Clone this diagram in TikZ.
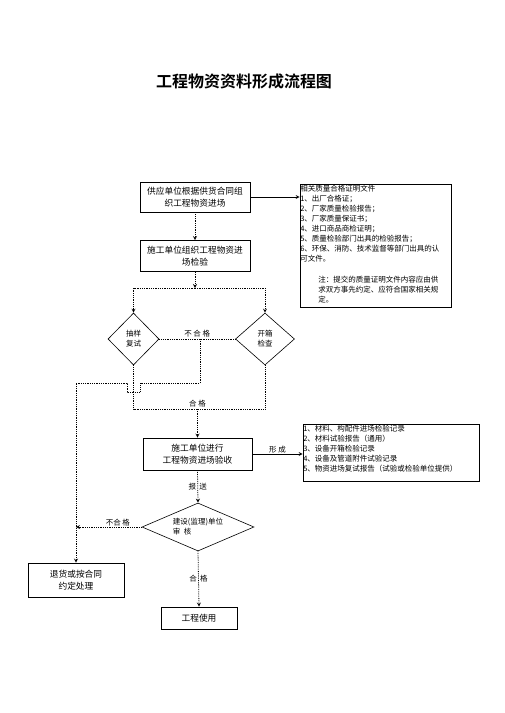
\documentclass[tikz,border=0pt]{standalone}
\usepackage{fontspec}
\setmainfont{Noto Sans CJK SC}[BoldFont={Noto Sans CJK SC Bold}]
\usepackage{tikz}
\usetikzlibrary{shapes.geometric, arrows}

\begin{document}
\begin{tikzpicture}[x=1pt, y=-1pt, font=\fontsize{7.5pt}{10pt}\selectfont]
		\tikzstyle{process} = [rectangle, minimum width=110pt, minimum height=30pt, align=center, draw=black, line width=0.8pt, inner sep=1pt, font=\fontsize{8.7pt}{12pt}\selectfont]
		
		\tikzstyle{decision} = [diamond, draw=black, line width=0.6pt, inner sep=0pt, align=center]
		
		\tikzstyle{docs} = [rectangle, draw=black, line width=0.9pt, inner sep=0pt]
		
		\tikzstyle{doctext} = [anchor=north west, align=left, inner xsep=0.5pt, inner ysep=1.5pt]
		
		\tikzstyle{arrow} = [->, >=stealth, line width=0.7pt]
		\tikzstyle{dotarrow} = [->, >=stealth, densely dotted, line width=0.8pt]
		\tikzstyle{dotline} = [densely dotted, line width=0.8pt]
		\tikzstyle{lbl} = [inner sep=1pt]
		
		\useasboundingbox (0,0) rectangle (504,713);
		
		% Title
		\node (title) at (244,81) {\fontsize{16pt}{18pt}\selectfont\bfseries 工程物资资料形成流程图};
		
		% Main column
		\node (supply) [process] at (195,197) {供应单位根据供货合同组\\织工程物资进场};
		\node (check) [process, minimum height=31pt] at (195,256) {施工单位组织工程物资进\\场检验};
		\node (sample) [decision, minimum width=51pt, minimum height=52pt] at (133.5,339) {抽样\\复试};
		\node (unpack) [decision, minimum width=59pt, minimum height=52pt] at (265,339) {开箱\\检查};
		\node (accept) [process, minimum width=109pt, minimum height=32pt] at (197.5,454) {施工单位进行\\工程物资进场验收};
		\node (review) [decision, shape aspect=2.33, minimum width=112pt, minimum height=48pt, align=left] at (198,527) {建设(监理)单位\\审\ \ 核};
		\node (reject) [process, minimum width=96pt, minimum height=34pt] at (76,580) {退货或按合同\\约定处理};
		\node (use) [process, minimum width=76pt, minimum height=22pt] at (199,618) {工程使用};
		
		% Document lists
		\node (certs) [docs, minimum width=151pt, minimum height=123pt] at (375.5,245.5) {};
		\node (certstext) [doctext] at (certs.north west) {相关质量合格证明文件\\
			1、出厂合格证；\\
			2、厂家质量检验报告；\\
			3、厂家质量保证书；\\
			4、进口商品商检证明；\\
			5、质量检验部门出具的检验报告；\\
			6、环保、消防、技术监督等部门出具的认\\
			可文件。\\[11pt]
			\hspace*{18pt}注：提交的质量证明文件内容应由供\\
			\hspace*{18pt}求双方事先约定、应符合国家相关规\\
			\hspace*{18pt}定。};
		\node (records) [docs, minimum width=176pt, minimum height=57pt] at (391,452.5) {};
		\node (recordstext) [doctext] at (records.north west) {1、材料、构配件进场检验记录\\
			2、材料试验报告（通用）\\
			3、设备开箱检验记录\\
			4、设备及管道附件试验记录\\
			5、物资进场复试报告（试验或检验单位提供）};
		
		% Helper points
		\coordinate (split) at (195,288);
		\coordinate (join) at (197.5,409);
		\coordinate (fail) at (200,339);
		\coordinate (back) at (76,527);
		
		% Arrows
		\draw [arrow] (supply.east) -- (supply.east -| certs.west);
		\draw [dotarrow] (supply.south) -- (check.north);
		\draw [dotarrow] (check.south) -- (split);
		\draw [dotarrow] (split) -| (sample.north);
		\draw [dotarrow] (split) -| (unpack.north);
		\draw [dotline] (sample.east) -- node[lbl, above] {不 合 格} (unpack.west);
		\draw [dotarrow] (fail) -- (200,383) -- (140,383) -- (140,392) -- (127,392) -- (127,383) -- (76,383) -- (reject.north);
		\draw [dotline] (sample.south) |- (join);
		\draw [dotline] (unpack.south) |- node[lbl, above, pos=1] {合 格} (join);
		\draw [dotarrow] (join) -- (accept.north);
		\draw [arrow] (accept.east) -- node[lbl, above] {形 成} (accept.east -| records.west);
		\draw [dotarrow] (accept.south) -- node[lbl] {报\ \ 送} (review.north);
		\draw [dotarrow] (review.west) -- node[lbl, above, xshift=9pt] {不合 格} (back);
		\draw [dotarrow] (review.south) -- node[lbl] {合\ \ 格} (use.north);
		
\end{tikzpicture}
\end{document}
